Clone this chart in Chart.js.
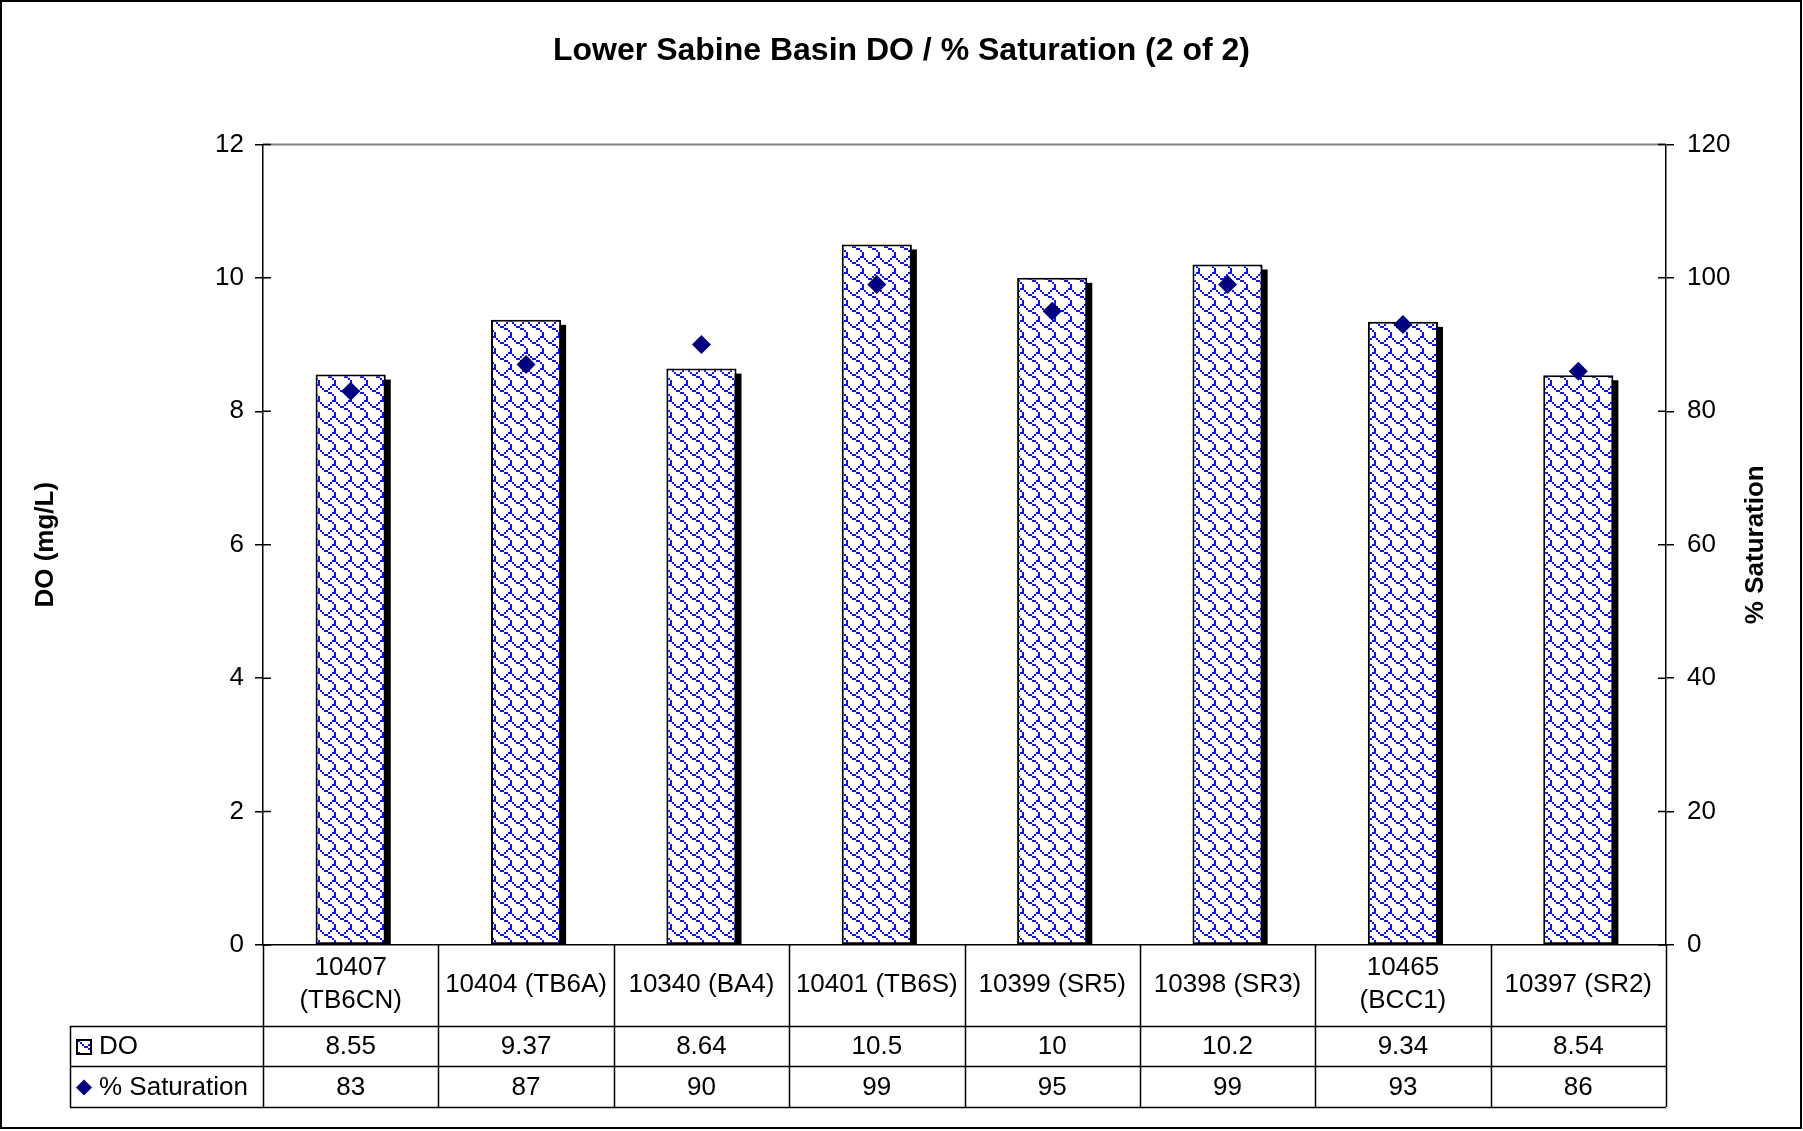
<!DOCTYPE html>
<html>
<head>
<meta charset="utf-8">
<script src="https://cdn.jsdelivr.net/npm/chart.js@4.4.0/dist/chart.umd.min.js"></script>
<style>
  html, body { margin: 0; padding: 0; background: #fff; }
  #wrap { width: 1803px; height: 1131px; }
</style>
</head>
<body>
<div id="wrap"><canvas id="chart" width="1803" height="1131"></canvas></div>
<script>
// data
const stations = [['10407', '(TB6CN)'], '10404 (TB6A)', '10340 (BA4)', '10401 (TB6S)',
  '10399 (SR5)', '10398 (SR3)', ['10465', '(BCC1)'], '10397 (SR2)'];
const doValues = [8.55, 9.37, 8.64, 10.5, 10, 10.2, 9.34, 8.54];
const satValues = [83, 87, 90, 99, 95, 99, 93, 86];
const doAxis = { min: 0, max: 12, step: 2 };
const satAxis = { min: 0, max: 120, step: 20 };

const FONT = 'Liberation Sans, Arial, sans-serif';

// excel-style "shingle" fill, 8x8 bits drawn at 2x
function shinglePattern(ctx) {
  const rows = [0x03, 0x84, 0x48, 0x30, 0x0c, 0x02, 0x01, 0x01];
  const c = document.createElement('canvas');
  c.width = c.height = 16;
  const g = c.getContext('2d');
  g.fillStyle = '#fff';
  g.fillRect(0, 0, 16, 16);
  g.fillStyle = '#1010ff';
  rows.forEach((bits, r) => {
    for (let b = 0; b < 8; b++) {
      if (bits & (0x80 >> b)) g.fillRect(b * 2, r * 2, 2, 2);
    }
  });
  return ctx.createPattern(c, 'repeat');
}

const canvas = document.getElementById('chart');
const ctx = canvas.getContext('2d');
const shingle = shinglePattern(ctx);

// black drop shadow behind each bar
const barShadow = {
  id: 'barShadow',
  beforeDatasetsDraw(chart) {
    const { ctx, chartArea } = chart;
    const idx = chart.data.datasets.findIndex(d => d.type === 'bar');
    const meta = chart.getDatasetMeta(idx);
    ctx.save();
    ctx.beginPath();
    ctx.rect(chartArea.left, chartArea.top, chartArea.right - chartArea.left, chartArea.bottom - chartArea.top);
    ctx.clip();
    ctx.fillStyle = '#000';
    meta.data.forEach(bar => {
      const w = bar.width;
      ctx.fillRect(bar.x - w / 2 + 5, bar.y + 5, w, bar.base - bar.y);
    });
    ctx.restore();
  }
};

// frame, axis titles, inner tick marks and the data table
const decorations = {
  id: 'decorations',
  beforeDraw(chart) {
    const { ctx } = chart;
    ctx.save();
    ctx.fillStyle = '#fff';
    ctx.fillRect(0, 0, chart.width, chart.height);
    ctx.restore();
  },
  afterDraw(chart) {
    const { ctx, chartArea } = chart;
    const { left, right, top, bottom } = chartArea;
    const x = chart.scales.x;
    const yL = chart.scales.yDO;
    const yR = chart.scales.ySat;
    ctx.save();

    // top edge of plot area
    ctx.strokeStyle = '#808080';
    ctx.lineWidth = 2;
    ctx.beginPath();
    ctx.moveTo(left, top);
    ctx.lineTo(right, top);
    ctx.stroke();

    // inner halves of tick marks
    ctx.strokeStyle = '#000';
    ctx.lineWidth = 1.5;
    ctx.beginPath();
    for (let v = doAxis.min; v <= doAxis.max; v += doAxis.step) {
      const py = yL.getPixelForValue(v);
      ctx.moveTo(left, py);
      ctx.lineTo(left + 8, py);
    }
    for (let v = satAxis.min; v <= satAxis.max; v += satAxis.step) {
      const py = yR.getPixelForValue(v);
      ctx.moveTo(right - 8, py);
      ctx.lineTo(right, py);
    }
    ctx.stroke();

    // axis titles (both read bottom to top)
    ctx.fillStyle = '#000';
    ctx.font = 'bold 26px ' + FONT;
    ctx.textAlign = 'center';
    ctx.textBaseline = 'middle';
    const midY = (top + bottom) / 2;
    [['DO (mg/L)', 46], ['% Saturation', 1756]].forEach(([t, px]) => {
      ctx.save();
      ctx.translate(px, midY);
      ctx.rotate(-Math.PI / 2);
      ctx.fillText(t, 0, 0);
      ctx.restore();
    });

    // data table
    const n = stations.length;
    const cw = (x.right - x.left) / n;
    const rowCat = bottom + 81, rowDO = bottom + 121, rowSat = bottom + 162;
    const legL = 70;
    ctx.strokeStyle = '#000';
    ctx.lineWidth = 1.5;
    ctx.beginPath();
    for (let i = 0; i <= n; i++) {
      const px = Math.round(x.left + i * cw) + 0.5;
      ctx.moveTo(px, bottom);
      ctx.lineTo(px, rowSat);
    }
    [rowCat, rowDO, rowSat].forEach(py => {
      ctx.moveTo(legL, py + 0.5);
      ctx.lineTo(right, py + 0.5);
    });
    ctx.moveTo(legL + 0.5, rowCat);
    ctx.lineTo(legL + 0.5, rowSat);
    ctx.stroke();

    ctx.font = '26px ' + FONT;
    ctx.textAlign = 'center';
    ctx.textBaseline = 'middle';
    const cyDO = (rowCat + rowDO) / 2 + 1;
    const cySat = (rowDO + rowSat) / 2 + 1;
    for (let i = 0; i < n; i++) {
      const cx = x.getPixelForValue(i);
      ctx.fillText(String(doValues[i]), cx, cyDO);
      ctx.fillText(String(satValues[i]), cx, cySat);
    }

    // legend keys
    ctx.textAlign = 'left';
    ctx.fillText('DO', 99, cyDO);
    ctx.fillText('% Saturation', 99, cySat);
    ctx.fillStyle = shingle;
    ctx.fillRect(77, cyDO - 7, 14, 14);
    ctx.strokeStyle = '#000';
    ctx.lineWidth = 2;
    ctx.strokeRect(77, cyDO - 7, 14, 14);
    ctx.fillStyle = '#000080';
    ctx.beginPath();
    ctx.moveTo(84, cySat - 8);
    ctx.lineTo(92, cySat);
    ctx.lineTo(84, cySat + 8);
    ctx.lineTo(76, cySat);
    ctx.closePath();
    ctx.fill();

    // outer frame
    ctx.strokeStyle = '#000';
    ctx.lineWidth = 2;
    ctx.strokeRect(1, 1, 1800, 1127);
    ctx.restore();
  }
};

const tickFont = { family: FONT, size: 26 };

new Chart(ctx, {
  data: {
    labels: stations,
    datasets: [
      {
        type: 'line',
        label: '% Saturation',
        data: satValues,
        yAxisID: 'ySat',
        showLine: false,
        pointStyle: 'rectRot',
        pointRadius: 9.5,
        backgroundColor: '#000080',
        borderColor: '#000080',
        borderWidth: 0,
        order: 1
      },
      {
        type: 'bar',
        label: 'DO',
        data: doValues,
        yAxisID: 'yDO',
        backgroundColor: shingle,
        borderColor: '#000',
        borderWidth: 2,
        borderSkipped: false,
        barPercentage: 0.4,
        categoryPercentage: 1,
        order: 2
      }
    ]
  },
  options: {
    responsive: false,
    animation: false,
    layout: { padding: 0 },
    plugins: {
      legend: { display: false },
      tooltip: { enabled: false },
      title: {
        display: true,
        text: 'Lower Sabine Basin DO / % Saturation (2 of 2)',
        color: '#000',
        font: { family: FONT, size: 32, weight: 'bold' },
        padding: { top: 32, bottom: 74 }
      }
    },
    scales: {
      x: {
        grid: { display: false, drawTicks: false },
        border: { display: true, color: '#000', width: 1.5 },
        ticks: {
          color: '#000', font: { family: FONT, size: 26, lineHeight: 1.28 },
          padding: 23, crossAlign: 'center', maxRotation: 0, autoSkip: false
        },
        afterFit(s) { s.height = 186; }
      },
      yDO: {
        position: 'left',
        min: doAxis.min, max: doAxis.max,
        grid: { drawOnChartArea: false, tickLength: 8, color: '#000', lineWidth: 1.5 },
        border: { color: '#000', width: 1.5 },
        ticks: { stepSize: doAxis.step, color: '#000', font: tickFont, padding: 11 },
        afterFit(s) { s.width = 263; }
      },
      ySat: {
        position: 'right',
        min: satAxis.min, max: satAxis.max,
        grid: { drawOnChartArea: false, tickLength: 8, color: '#000', lineWidth: 1.5 },
        border: { color: '#000', width: 1.5 },
        ticks: { stepSize: satAxis.step, color: '#000', font: tickFont, padding: 13 },
        afterFit(s) { s.width = 137; }
      }
    }
  },
  plugins: [decorations, barShadow]
});
</script>
</body>
</html>
